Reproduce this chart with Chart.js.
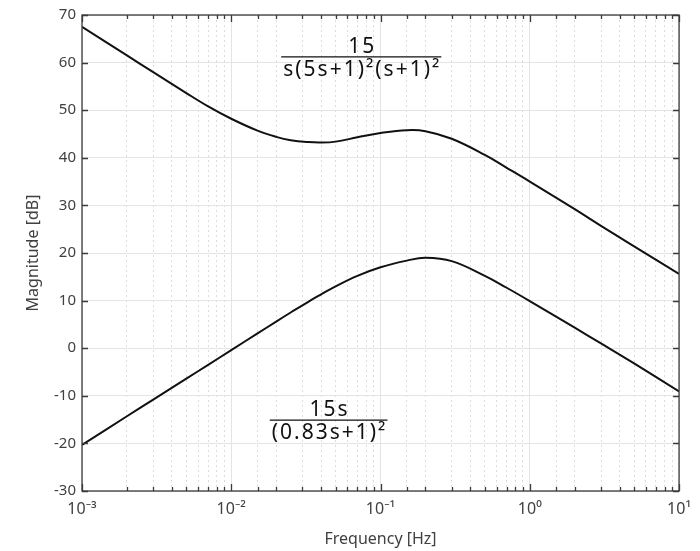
<!DOCTYPE html>
<html>
<head>
<meta charset="utf-8">
<script src="https://cdn.jsdelivr.net/npm/chart.js@4"></script>
<style>
  html, body { margin: 0; padding: 0; background: #ffffff; }
  canvas { display: block; }
</style>
</head>
<body>
<canvas id="graphique" width="700" height="551"></canvas>
<script>
/********************/
/* Données globales */
/********************/
// Fréquences (Hz) où les courbes sont relevées
var frequences = [0.001, 0.002, 0.003, 0.005, 0.007, 0.01, 0.015, 0.02, 0.025, 0.0326, 0.04, 0.05, 0.07, 0.1, 0.15, 0.2, 0.3, 0.5, 0.7, 1, 2, 3, 5, 10];
// Gain (dB) de 15/(s(5s+1)^2(s+1)^2)
var gainHaut = [67.5, 61.5, 58.0, 53.6, 50.8, 48.2, 45.7, 44.4, 43.7, 43.3, 43.2, 43.4, 44.3, 45.2, 45.8, 45.6, 44.0, 40.6, 37.9, 35.0, 29.2, 25.7, 21.4, 15.6];
// Gain (dB) de 15s/(0.83s+1)^2
var gainBas = [-20.3, -14.3, -10.8, -6.4, -3.5, -0.4, 3.1, 5.6, 7.5, 9.7, 11.3, 13.0, 15.2, 17.0, 18.4, 19.0, 18.3, 15.2, 12.7, 9.9, 4.3, 1.0, -3.2, -9.1];

// Graduations
var decades = [0.001, 0.01, 0.1, 1, 10];
var etiquettesX = ['10\u207B\u00B3', '10\u207B\u00B2', '10\u207B\u00B9', '10\u2070', '10\u00B9'];
var graduationsY = [-30, -20, -10, 0, 10, 20, 30, 40, 50, 60, 70];

// Fonctions de transfert écrites sur le graphique
var numerateurHaut = '15';
var denominateurHaut = 's(5s+1)\u00B2(s+1)\u00B2';
var numerateurBas = '15s';
var denominateurBas = '(0.83s+1)\u00B2';

var couleurTexte = '#404040';
var police = '"Noto Sans", "Open Sans", sans-serif';

/***************/
/* Utilitaires */
/***************/
function estDecade(v) {
    var l = Math.log10(v);
    return Math.abs(l - Math.round(l)) < 1e-6;
}

function points(valeurs) {
    var donneesXY = [];
    for (var i = 0; i < frequences.length; i++) {
        donneesXY.push({ x: frequences[i], y: valeurs[i] });
    }
    return donneesXY;
}

// Ecrit une fraction centrée en (x, yBarre)
function dessinerFraction(ctx, x, yBarre, num, den) {
    ctx.font = '21px ' + police;
    ctx.letterSpacing = '2px';
    var largeur = Math.max(ctx.measureText(num).width, ctx.measureText(den).width);
    ctx.textAlign = 'center';
    ctx.textBaseline = 'alphabetic';
    ctx.fillText(num, x + 1, yBarre - 4);
    ctx.fillText(den, x + 1, yBarre + 19);
    ctx.beginPath();
    ctx.lineWidth = 1.2;
    ctx.moveTo(x - largeur / 2 - 1, yBarre);
    ctx.lineTo(x + largeur / 2 + 1, yBarre);
    ctx.stroke();
    ctx.letterSpacing = '0px';
}

/****************************************/
/* Cadre, graduations internes, textes */
/****************************************/
var pluginCadre = {
    id: 'cadre',
    afterDatasetsDraw: function(chart) {
        var ctx = chart.ctx;
        var zone = chart.chartArea;
        var echX = chart.scales.x;
        var echY = chart.scales.y;
        ctx.save();
        ctx.strokeStyle = '#3a3a3a';
        ctx.lineWidth = 1.3;
        ctx.strokeRect(zone.left, zone.top, zone.right - zone.left, zone.bottom - zone.top);

        // Graduations de l'axe x (haut et bas, vers l'intérieur)
        ctx.beginPath();
        echX.ticks.forEach(function(t) {
            var px = Math.round(echX.getPixelForValue(t.value)) + 0.5;
            var l = estDecade(t.value) ? 7 : 4;
            ctx.moveTo(px, zone.bottom);
            ctx.lineTo(px, zone.bottom - l);
            ctx.moveTo(px, zone.top);
            ctx.lineTo(px, zone.top + l);
        });
        // Graduations de l'axe y (gauche et droite)
        echY.ticks.forEach(function(t) {
            var py = Math.round(echY.getPixelForValue(t.value)) + 0.5;
            ctx.moveTo(zone.left, py);
            ctx.lineTo(zone.left + 6, py);
            ctx.moveTo(zone.right, py);
            ctx.lineTo(zone.right - 6, py);
        });
        ctx.stroke();

        // Fonctions de transfert
        ctx.fillStyle = '#111111';
        ctx.strokeStyle = '#111111';
        dessinerFraction(ctx, echX.getPixelForValue(0.0743), echY.getPixelForValue(61.2), numerateurHaut, denominateurHaut);
        dessinerFraction(ctx, echX.getPixelForValue(0.0449), echY.getPixelForValue(-15.1), numerateurBas, denominateurBas);
        ctx.restore();
    }
};

/**********************/
/* Création du graphe */
/**********************/
var ctx = document.getElementById('graphique').getContext('2d');
var bodeChart = new Chart(ctx, {
    type: 'line',
    data: {
        datasets: [{
            label: 'haut',
            data: points(gainHaut),
            borderColor: '#111111',
            borderWidth: 2,
            pointRadius: 0,
            tension: 0.4
        }, {
            label: 'bas',
            data: points(gainBas),
            borderColor: '#111111',
            borderWidth: 2,
            pointRadius: 0,
            tension: 0.4
        }]
    },
    options: {
        responsive: false,
        animation: false,
        devicePixelRatio: 1,
        layout: { padding: { top: 15, right: 15, left: 0, bottom: 0 } },
        plugins: {
            legend: { display: false },
            tooltip: { enabled: false }
        },
        scales: {
            x: {
                type: 'logarithmic',
                min: 0.001,
                max: 10,
                afterFit: function(echelle) { echelle.height = 60; },
                border: {
                    display: false,
                    dash: function(c) { return (c.tick && !estDecade(c.tick.value)) ? [2, 3] : []; }
                },
                grid: {
                    drawTicks: false,
                    lineWidth: 1,
                    color: function(c) { return (c.tick && estDecade(c.tick.value)) ? '#e4e4e4' : '#dcdcdc'; }
                },
                ticks: {
                    autoSkip: false,
                    maxRotation: 0,
                    padding: 9,
                    color: couleurTexte,
                    font: { family: police, size: 16 },
                    callback: function(valeur) {
                        for (var i = 0; i < decades.length; i++) {
                            if (Math.abs(Math.log10(valeur) - Math.log10(decades[i])) < 1e-6) return etiquettesX[i];
                        }
                        return '';
                    }
                },
                title: {
                    display: true,
                    text: 'Frequency [Hz]',
                    color: couleurTexte,
                    font: { family: police, size: 16 },
                    padding: { top: 0, bottom: 2 }
                }
            },
            y: {
                min: -30,
                max: 70,
                afterFit: function(echelle) { echelle.width = 82; },
                afterBuildTicks: function(echelle) {
                    echelle.ticks = graduationsY.map(function(v) { return { value: v }; });
                },
                border: { display: false },
                grid: {
                    drawTicks: false,
                    lineWidth: 1,
                    color: '#e4e4e4'
                },
                ticks: {
                    padding: 6,
                    color: couleurTexte,
                    font: { family: police, size: 15 }
                },
                title: {
                    display: true,
                    text: 'Magnitude [dB]',
                    color: couleurTexte,
                    font: { family: police, size: 16 },
                    padding: { top: 24, bottom: 0 }
                }
            }
        }
    },
    plugins: [pluginCadre]
});
</script>
</body>
</html>
